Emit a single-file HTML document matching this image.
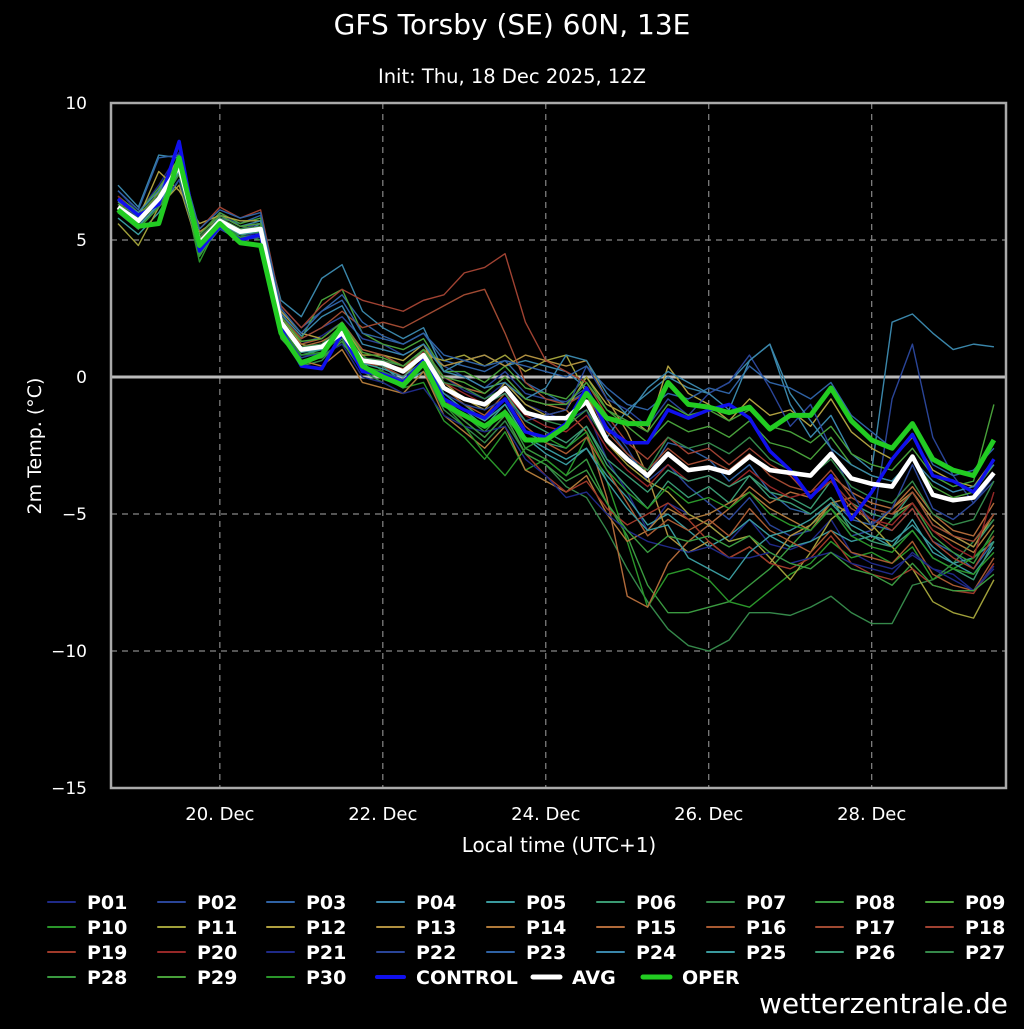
<!DOCTYPE html>
<html><head><meta charset="utf-8"><style>
body{margin:0;background:#000;}
svg text{font-family:"DejaVu Sans","Liberation Sans",sans-serif;fill:#fff;}
</style></head><body>
<svg id="c" width="1024" height="1024" viewBox="0 0 1024 1024">
<rect width="1024" height="1024" fill="#000"/>
<text x="512" y="34" font-size="28" text-anchor="middle">GFS Torsby (SE) 60N, 13E</text>
<text x="512" y="83" font-size="19.5" text-anchor="middle">Init: Thu, 18 Dec 2025, 12Z</text>
<g id="grid"></g>
<g id="series"></g>
<rect x="111" y="103" width="895" height="685" fill="none" stroke="#aaa" stroke-width="2.5"/>
<g id="axes"></g>
<text transform="translate(41,446) rotate(-90)" font-size="19" text-anchor="middle">2m Temp. (°C)</text>
<text x="559" y="852" font-size="20" text-anchor="middle">Local time (UTC+1)</text>
<g id="legend"></g>
<text x="1008" y="1013" font-size="28" text-anchor="end">wetterzentrale.de</text>
</svg>
<script>
const yTicks=[10,5,0,-5,-10,-15];
const xTickLabels=["20. Dec","22. Dec","24. Dec","26. Dec","28. Dec"];
const xTickIdx=[5,13,21,29,37];
const avg=[6.2,5.7,6.5,7.7,4.9,5.7,5.3,5.4,2.0,1.0,1.1,1.6,0.6,0.5,0.2,0.8,-0.4,-0.8,-1.0,-0.4,-1.3,-1.5,-1.5,-0.9,-2.3,-3.0,-3.6,-2.8,-3.4,-3.3,-3.5,-2.9,-3.4,-3.5,-3.6,-2.8,-3.7,-3.9,-4.0,-2.9,-4.3,-4.5,-4.4,-3.5];
const oper=[6.1,5.5,5.6,8.0,4.8,5.6,4.9,4.8,1.6,0.5,0.8,1.9,0.4,0.0,-0.3,0.5,-1.0,-1.4,-1.8,-1.3,-2.3,-2.3,-1.8,-0.6,-1.5,-1.7,-1.7,-0.2,-1.0,-1.1,-1.3,-1.1,-1.9,-1.4,-1.4,-0.4,-1.6,-2.3,-2.6,-1.7,-3.0,-3.4,-3.6,-2.3];
const control=[6.5,5.9,6.3,8.6,4.6,5.5,5.0,5.2,1.8,0.4,0.3,1.6,0.2,0.1,-0.2,0.6,-0.8,-1.2,-1.5,-0.8,-2.0,-2.2,-1.7,-0.4,-1.9,-2.4,-2.4,-1.2,-1.5,-1.2,-1.0,-1.5,-2.7,-3.4,-4.4,-3.6,-5.2,-4.2,-3.0,-2.1,-3.6,-3.8,-4.2,-3.0];
const members=[
[6.8,6.0,7.0,8.2,5.2,6.0,5.5,5.6,2.4,1.2,1.5,2.0,1.0,0.8,0.4,1.0,0.0,-0.5,-0.8,-0.2,-1.0,-1.3,-1.6,-1.2,-3.0,-4.2,-5.6,-4.6,-5.0,-5.4,-6.0,-5.2,-6.1,-6.3,-6.0,-5.2,-6.4,-6.8,-7.0,-6.5,-7.0,-7.2,-7.8,-7.0],
[6.5,5.8,6.4,7.5,4.8,5.8,5.4,5.6,2.2,1.4,1.8,2.2,1.4,1.2,0.8,1.2,0.4,0.0,-0.4,0.2,-0.6,-0.8,-0.9,-0.4,-1.6,-2.6,-3.8,-3.2,-4.0,-4.6,-5.2,-4.4,-5.4,-5.8,-5.6,-4.8,-5.8,-5.6,-0.8,1.2,-2.2,-3.6,-4.6,-3.6],
[6.0,5.4,6.8,7.9,5.1,5.8,5.6,5.9,2.6,1.8,2.4,3.0,2.0,1.5,1.2,1.6,0.6,0.4,0.2,0.6,-0.2,-0.6,-1.0,-0.5,-1.8,-2.8,-3.6,-2.4,-2.6,-3.0,-3.8,-3.2,-4.2,-4.8,-5.0,-4.4,-5.2,-5.4,-5.6,-4.8,-6.0,-6.4,-7.0,-6.0],
[7.0,6.2,8.1,8.0,4.5,5.4,5.2,5.6,2.8,2.2,3.6,4.1,2.4,1.8,1.4,1.8,0.2,0.6,0.8,0.4,0.6,0.4,0.2,-0.4,-2.2,-1.2,-0.6,0.0,-0.4,-0.6,-0.2,0.6,1.2,-1.0,-2.2,-1.4,-2.8,-3.4,2.0,2.3,1.6,1.0,1.2,1.1],
[5.8,5.2,6.0,7.2,4.6,5.4,5.0,5.2,2.0,1.0,0.8,1.2,0.6,0.4,-0.2,0.2,-0.8,-1.2,-1.8,-1.0,-2.2,-2.6,-3.0,-2.6,-3.6,-4.4,-5.4,-5.0,-5.6,-6.2,-5.8,-5.2,-5.8,-6.2,-6.0,-5.6,-6.0,-5.8,-6.2,-5.2,-6.4,-6.8,-6.6,-6.0],
[6.2,5.9,6.6,7.8,5.0,5.6,5.3,5.3,1.8,0.8,1.0,1.8,0.4,0.6,0.2,1.0,-0.4,-1.0,-1.6,-0.8,-2.0,-2.4,-2.6,-1.8,-3.2,-4.0,-4.8,-3.8,-4.4,-4.0,-4.6,-3.6,-4.2,-4.4,-4.8,-3.8,-4.6,-5.0,-5.2,-4.2,-5.4,-5.8,-6.2,-5.2],
[6.4,5.6,6.2,7.6,4.7,5.9,5.5,5.4,1.6,0.4,0.6,1.4,0.2,-0.2,-0.6,0.2,-1.2,-1.8,-2.4,-1.6,-2.8,-3.2,-4.0,-4.4,-5.6,-7.0,-8.2,-9.2,-9.8,-10.0,-9.6,-8.6,-8.6,-8.7,-8.4,-8.0,-8.6,-9.0,-9.0,-7.6,-7.4,-6.8,-6.0,-5.2],
[6.0,5.5,6.2,7.4,4.4,5.6,5.2,5.0,1.4,0.6,0.8,1.6,0.2,0.0,-0.4,0.4,-0.8,-1.4,-2.0,-1.2,-2.6,-3.0,-3.6,-3.0,-4.6,-5.8,-7.6,-8.6,-8.6,-8.4,-8.2,-7.6,-7.0,-6.2,-5.4,-4.8,-5.6,-6.0,-5.2,-4.6,-5.8,-6.4,-6.8,-5.6],
[6.6,6.0,6.9,8.0,5.2,6.0,5.6,5.8,2.2,1.4,2.8,3.2,1.6,1.2,1.0,1.4,0.2,0.2,-0.2,0.4,-0.4,-0.6,-0.8,0.0,-1.2,-1.8,-2.4,-1.6,-2.0,-1.8,-2.2,-1.6,-2.4,-2.6,-3.0,-2.2,-3.2,-3.6,-3.8,-3.0,-4.0,-4.4,-4.2,-3.2],
[6.1,5.4,6.4,7.6,4.2,5.7,5.1,5.5,2.0,0.9,1.2,1.9,0.8,0.2,-0.4,-0.2,-1.6,-2.2,-3.0,-2.0,-3.4,-3.0,-3.6,-2.2,-3.8,-6.0,-8.4,-7.2,-7.0,-7.4,-8.2,-8.4,-7.8,-7.2,-6.8,-6.0,-6.6,-6.4,-6.8,-6.2,-7.4,-7.0,-6.6,-5.8],
[5.6,4.8,6.2,7.0,4.6,5.5,5.4,5.2,2.2,1.2,1.0,1.8,0.6,0.4,0.0,0.8,0.6,0.8,0.4,0.8,0.2,0.6,0.8,-0.6,-2.4,-3.2,-3.8,-4.2,-5.0,-5.4,-6.0,-5.8,-6.6,-7.4,-6.4,-5.2,-4.6,-5.4,-6.2,-7.0,-8.2,-8.6,-8.8,-7.4],
[6.3,5.8,7.5,6.8,5.6,5.9,5.7,5.7,2.4,1.6,1.4,2.0,0.8,0.8,0.6,1.2,-0.2,-0.8,-1.2,-0.2,-1.0,-1.4,-1.2,0.0,-1.0,-1.4,-2.0,0.4,-0.6,-1.0,-1.6,-0.8,-1.4,-1.2,-1.8,-0.8,-2.0,-2.6,-3.0,-2.2,-3.4,-3.8,-4.0,-3.0],
[6.2,5.6,6.8,8.0,5.3,5.8,5.4,5.5,1.8,1.0,1.2,1.6,0.4,0.6,0.4,1.0,0.4,0.6,0.8,0.4,0.8,0.6,0.4,0.6,-0.8,-2.0,-3.6,-5.8,-6.4,-6.0,-6.6,-6.2,-6.8,-5.8,-5.4,-4.6,-5.0,-5.6,-4.8,-4.2,-5.2,-5.8,-6.2,-5.0],
[6.0,5.5,6.3,7.4,4.9,5.6,5.2,5.3,1.6,0.6,0.4,1.0,-0.2,-0.4,-0.6,0.2,-1.4,-2.0,-2.6,-1.8,-3.4,-3.8,-4.2,-3.6,-5.0,-6.0,-5.6,-4.8,-5.2,-5.0,-4.6,-4.2,-4.8,-5.2,-5.6,-4.6,-4.4,-4.8,-5.0,-4.6,-5.6,-6.0,-6.4,-5.4],
[6.4,5.9,6.6,7.8,5.0,5.9,5.5,5.6,2.0,1.1,1.3,1.7,0.6,0.5,0.3,0.9,0.0,-0.4,-0.6,0.0,-0.8,-1.0,-1.2,-2.0,-4.4,-8.0,-8.4,-6.8,-6.0,-5.4,-4.8,-4.0,-4.6,-4.2,-4.4,-3.6,-4.2,-4.6,-4.8,-4.0,-5.0,-5.6,-5.8,-4.6],
[6.1,5.7,6.4,7.6,4.8,5.6,5.3,5.5,1.9,1.2,1.4,2.0,1.0,0.8,0.4,0.8,-0.4,-1.0,-1.4,-0.6,-1.8,-2.4,-2.8,-2.2,-3.4,-4.6,-5.8,-5.2,-5.6,-5.2,-5.8,-4.8,-5.6,-6.0,-6.4,-5.6,-6.4,-6.6,-6.8,-6.0,-7.2,-7.6,-7.8,-6.6],
[6.3,5.8,6.5,7.7,5.1,5.8,5.4,5.4,2.2,1.4,1.8,2.4,1.8,2.0,1.8,2.2,2.6,3.0,3.2,1.6,-0.2,-0.8,-1.0,-0.6,-2.0,-2.8,-3.4,-2.6,-3.2,-3.0,-3.4,-2.8,-3.6,-4.0,-4.2,-3.4,-4.4,-4.8,-5.0,-4.2,-5.4,-5.8,-6.0,-5.0],
[6.5,5.7,6.6,7.9,5.4,6.2,5.8,6.1,2.6,1.8,2.6,3.2,2.8,2.6,2.4,2.8,3.0,3.8,4.0,4.5,2.0,0.6,0.2,-0.2,-1.4,-2.4,-3.0,-2.2,-2.8,-2.6,-3.2,-2.6,-3.2,-3.6,-4.4,-3.8,-4.8,-5.2,-5.6,-4.8,-6.0,-6.6,-7.0,-5.8],
[6.2,5.6,6.4,7.6,4.9,5.7,5.3,5.4,1.9,0.9,1.1,1.5,0.5,0.4,0.0,0.6,-0.8,-1.6,-2.2,-1.4,-2.8,-3.6,-4.2,-3.8,-4.8,-5.4,-5.0,-4.6,-5.2,-6.0,-6.6,-6.2,-6.8,-7.0,-6.6,-5.8,-6.8,-7.2,-7.4,-7.0,-7.6,-7.8,-7.9,-6.8],
[6.6,5.9,6.7,7.8,5.0,5.8,5.4,5.5,2.1,1.0,1.2,1.7,0.7,0.6,0.2,0.9,-0.2,-0.6,-1.0,-0.6,-1.4,-1.8,-2.0,-1.4,-2.6,-3.4,-4.0,-3.2,-3.8,-3.6,-4.0,-3.4,-4.0,-4.4,-4.2,-3.8,-4.6,-5.2,-5.4,-4.6,-5.6,-6.2,-6.6,-4.2],
[6.3,5.8,6.6,8.4,4.7,5.5,5.1,5.3,1.6,0.8,0.8,1.2,0.0,-0.2,-0.6,-0.4,-1.4,-1.8,-2.0,-1.8,-3.0,-3.6,-4.4,-4.2,-5.0,-5.6,-6.0,-6.2,-6.4,-6.2,-6.6,-6.6,-6.4,-6.8,-6.6,-6.4,-6.8,-7.0,-7.2,-6.4,-7.0,-7.4,-7.8,-6.9],
[6.0,5.6,6.2,7.2,4.6,5.4,5.0,5.1,1.8,0.7,0.9,1.5,0.3,0.2,-0.1,0.5,-0.6,-1.0,-1.2,-0.8,-1.6,-1.4,-1.2,0.4,-0.8,-1.2,-1.8,-0.8,-1.4,-0.6,-0.2,0.8,-0.4,-1.8,-1.0,-2.6,-4.2,-5.4,-4.8,-3.2,-4.8,-5.2,-4.6,-3.8],
[6.8,6.1,8.0,8.1,5.4,6.1,5.8,6.0,2.5,1.6,2.4,2.8,1.6,1.4,1.2,1.6,0.8,0.6,0.4,0.6,0.4,0.2,0.0,0.4,-0.4,-1.0,-1.2,-0.6,-0.8,-0.4,-0.6,0.4,-0.2,-0.4,-0.8,-0.2,-1.4,-2.0,-2.6,-1.8,-3.2,-3.6,-3.4,-2.6],
[6.4,6.0,6.8,7.9,4.9,5.9,5.5,5.7,2.3,1.5,2.2,2.6,1.2,1.0,0.8,1.2,0.2,0.0,-0.4,-0.2,-0.8,-0.4,0.8,0.6,-0.6,-1.4,-0.4,0.2,-0.2,-0.6,-1.2,0.6,1.2,-0.6,-1.6,-2.6,-3.2,-3.6,-3.8,-3.0,-3.8,-4.2,-4.0,-3.2],
[6.1,5.5,6.3,7.5,4.8,5.6,5.2,5.3,1.9,0.9,1.0,1.6,0.5,0.3,0.0,0.6,-0.6,-1.2,-1.6,-1.0,-2.2,-2.8,-3.2,-2.6,-3.8,-4.8,-5.6,-5.4,-6.6,-7.0,-7.4,-6.4,-5.8,-5.6,-5.2,-4.6,-5.4,-5.8,-6.0,-5.4,-6.2,-6.8,-7.2,-6.2],
[6.2,5.7,6.5,7.7,5.0,5.7,5.3,5.4,2.0,1.0,1.1,1.7,0.6,0.4,0.2,0.8,-0.4,-0.8,-1.0,-0.6,-1.6,-2.0,-2.4,-1.8,-3.0,-3.6,-4.2,-3.4,-3.8,-3.6,-4.0,-3.6,-4.4,-4.6,-5.0,-4.4,-5.6,-6.0,-6.2,-5.6,-6.6,-7.0,-7.4,-6.0],
[6.5,5.8,6.6,7.8,5.1,5.8,5.4,5.5,2.1,1.1,1.2,1.8,0.7,0.6,0.4,1.0,-0.2,-0.4,-0.8,-0.4,-1.2,-1.6,-1.8,-1.2,-2.4,-3.0,-3.4,-2.2,-2.6,-2.4,-2.8,-2.2,-3.0,-3.4,-3.6,-3.0,-4.0,-4.4,-4.6,-3.8,-5.0,-5.4,-5.2,-3.8],
[6.0,5.4,6.2,7.4,4.5,5.5,5.1,5.2,1.7,0.6,0.7,1.3,0.2,0.0,-0.4,0.4,-1.0,-1.6,-2.2,-1.4,-2.8,-3.2,-3.8,-3.4,-4.6,-5.6,-6.4,-5.8,-6.0,-5.8,-6.2,-5.8,-6.4,-6.8,-7.0,-6.4,-7.0,-7.2,-7.6,-6.8,-7.6,-7.8,-7.8,-7.2],
[6.3,5.9,6.7,7.9,5.2,5.9,5.5,5.6,2.2,1.3,1.4,2.0,0.9,0.7,0.4,1.0,0.0,-0.2,-0.6,0.0,-0.8,-1.0,-1.0,-0.2,-1.2,-1.6,-2.0,-1.0,-1.4,-1.2,-1.6,-1.2,-1.8,-2.0,-2.4,-1.8,-2.8,-3.2,-3.4,-2.6,-3.6,-4.0,-3.8,-1.0],
[6.2,5.6,6.4,7.6,4.9,5.6,5.3,5.3,1.8,0.8,0.9,1.5,0.4,0.2,-0.2,0.5,-1.0,-1.8,-2.8,-3.6,-2.6,-2.2,-2.6,-2.0,-3.4,-4.2,-4.8,-4.0,-4.6,-4.4,-4.8,-4.2,-5.0,-5.4,-5.6,-4.8,-5.8,-6.2,-6.4,-5.6,-6.6,-7.0,-7.2,-6.4]
];
const memberColors=["#1f2a88","#2a4598","#2f62a4","#3a86aa","#3a9a9e","#3a9a72","#35884a","#3a9a40","#48a03a","#2a962a","#a0a03a","#b0a040","#b09040","#b07a3a","#b06a3a","#a85a32","#a04a32","#a04232","#a03a2a","#962828","#1f2a88","#2a4598","#2f62a4","#3a86aa","#3a9a9e","#3a9a72","#35884a","#3a9a40","#48a03a","#2a962a"];
const NS="http://www.w3.org/2000/svg";
const X0=118,DX=20.37,YT=103,YB=788,VMAX=10,VMIN=-15;
function xs(i){return X0+DX*i;}
function ys(v){return YT+(VMAX-v)/(VMAX-VMIN)*(YB-YT);}
function mk(t,a,p){const e=document.createElementNS(NS,t);for(const k in a)e.setAttribute(k,a[k]);p.appendChild(e);return e;}
const grid=document.getElementById('grid'),axes=document.getElementById('axes'),ser=document.getElementById('series'),leg=document.getElementById('legend');
yTicks.forEach(v=>{
 if(v!==10&&v!==-15&&v!==0){const l=mk('line',{x1:111,x2:1006,y1:ys(v),y2:ys(v),stroke:'#888','stroke-width':1.2,'stroke-dasharray':'6,5'},grid);
 
 }
 const t=mk('text',{x:87,y:ys(v)+6,'font-size':17,'text-anchor':'end'},axes);t.textContent=v===-15?'−15':(v<0?'−'+(-v):v);
 
 
});
xTickIdx.forEach((ix,k)=>{
 const l=mk('line',{x1:xs(ix),x2:xs(ix),y1:YT,y2:YB,stroke:'#888','stroke-width':1.2,'stroke-dasharray':'6,5'},grid);
 
 
 const t=mk('text',{x:xs(ix),y:820,'font-size':18,'text-anchor':'middle'},axes);t.textContent=xTickLabels[k];
 
 
});
const z=mk('line',{x1:111,x2:1006,y1:ys(0),y2:ys(0),stroke:'#bbb','stroke-width':3},grid);


function line(arr,col,w,name){const p=mk('polyline',{points:arr.map((v,i)=>xs(i)+','+ys(v)).join(' '),fill:'none',stroke:col,'stroke-width':w,'stroke-linejoin':'round'},ser);
 
 }
members.forEach((m,k)=>line(m,memberColors[k],1.4,'series-p'+String(k+1).padStart(2,'0')));
line(control,'#1010ee',3.5,'series-control');
line(avg,'#ffffff',4.5,'series-avg');
line(oper,'#22cc22',5,'series-oper');
const labels=[],cols=[],ws=[];
for(let k=0;k<30;k++){labels.push('P'+String(k+1).padStart(2,'0'));cols.push(memberColors[k]);ws.push(2);}
labels.push('CONTROL','AVG','OPER');cols.push('#1010ee','#ffffff','#22cc22');ws.push(4,5,5);
const colX=[48,158,267,377,487,597,707,816,926];
labels.forEach((lb,i)=>{
 let r=Math.floor(i/9),c=i%9;let x=colX[c];
 if(i===31)x=533;if(i===32)x=643;
 const y=902+r*25;
 const g=mk('g',{},leg);
 
 
 mk('line',{x1:x,x2:x+27,y1:y,y2:y,stroke:cols[i],'stroke-width':ws[i],'stroke-linecap':'round'},g);
 const t=mk('text',{x:x+39,y:y+7,'font-size':19,'font-weight':'bold'},g);t.textContent=lb;
});
</script>
</body></html>
